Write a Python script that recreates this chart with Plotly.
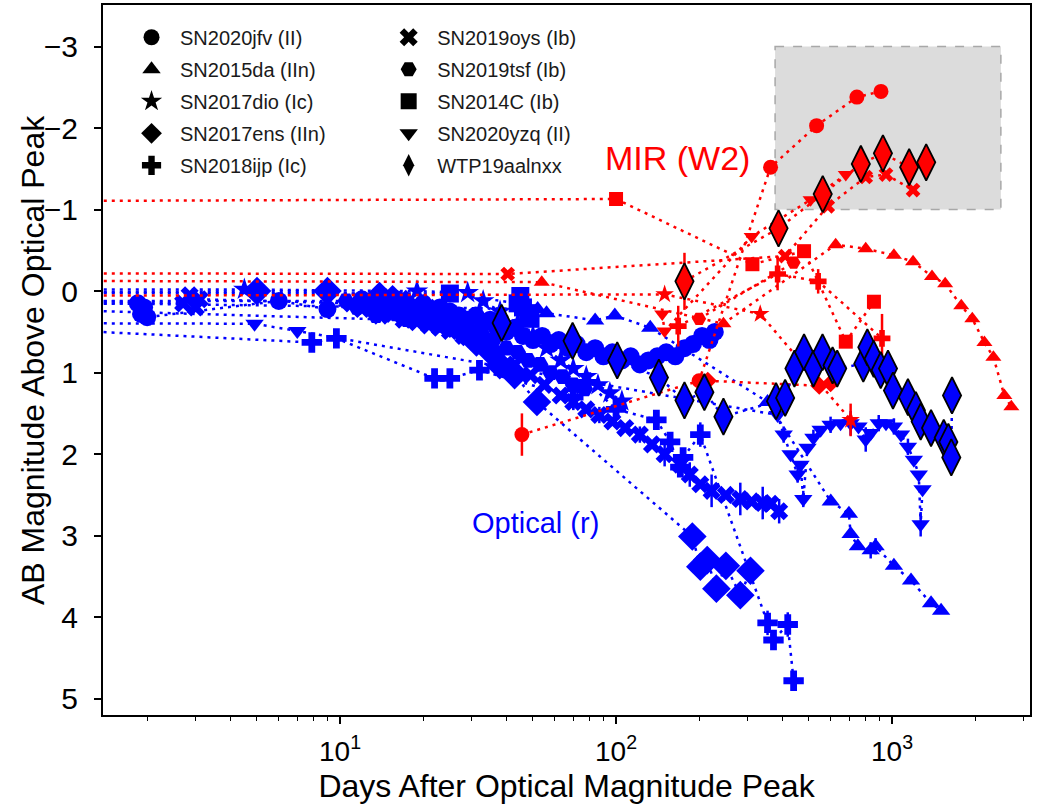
import plotly.graph_objects as go

BLUE = "#0000ff"
RED = "#ff0000"
FONT = "Liberation Sans, Arial, Helvetica, sans-serif"

# ---------------- Optical (r) light curves: (days, mag[, err]) ----------------
jfv_opt = [(0.3, 0.18), (1.85, 0.15), (1.9, 0.28), (1.95, 0.2), (2.0, 0.32), (6.0, 0.12), (9.0, 0.22),
           (12, 0.1), (13, 0.15), (14, 0.05), (15, 0.2), (16, 0.1), (17, 0.15), (18, 0.25), (19, 0.2),
           (20, 0.15), (21, 0.25), (22, 0.3), (23, 0.2), (24, 0.3), (25, 0.25), (27, 0.3), (29, 0.35),
           (31, 0.3), (33, 0.4), (35, 0.35), (37, 0.45), (40, 0.5), (43, 0.45), (46, 0.55), (50, 0.6),
           (54, 0.55), (58, 0.65), (62, 0.6), (67, 0.7), (72, 0.65), (78, 0.75), (84, 0.7), (90, 0.8),
           (97, 0.75), (105, 0.85), (113, 0.8), (122, 0.9), (131, 0.85), (141, 0.8), (152, 0.75),
           (164, 0.8), (177, 0.7), (190, 0.65), (205, 0.55), (218, 0.6), (228, 0.5)]
oys_opt = [(0.3, 0.06), (2.7, 0.15), (2.85, 0.05), (3.0, 0.2), (3.1, 0.1), (11, 0.15), (12, 0.22),
           (13, 0.2), (14, 0.3), (15.5, 0.28), (17, 0.35), (19, 0.38), (21, 0.42), (23, 0.45), (25, 0.49),
           (28, 0.55), (31, 0.62), (34, 0.68), (38, 0.79), (43, 0.9), (49, 1.03), (55, 1.15), (63, 1.28),
           (70, 1.36, 0.1), (78, 1.45), (87, 1.52, 0.1), (97, 1.6), (108, 1.68), (122, 1.76, 0.1),
           (135, 1.88), (150, 2.0, 0.15), (171, 2.13), (185, 2.25, 0.15), (202, 2.37), (222, 2.45, 0.2),
           (250, 2.5), (282, 2.55, 0.2), (310, 2.58), (340, 2.6, 0.2), (363, 2.61), (390, 2.7, 0.15)]
tsf_opt = [(0.3, 0.12), (10.5, 0.12), (11.5, 0.2), (12.5, 0.18), (13.5, 0.3), (14.5, 0.25), (16, 0.28),
           (17.5, 0.35), (19, 0.3), (21, 0.38), (23, 0.42), (25, 0.36), (27, 0.45), (30, 0.5), (33, 0.55),
           (36, 0.6), (40, 0.7), (44, 0.75), (48, 0.85), (53, 0.9), (58, 1.0), (64, 1.05), (70, 1.15),
           (77, 1.2)]
dio_opt = [(0.3, -0.02), (4.5, -0.02), (19, 0.0), (29, 0.02), (33, 0.12), (38, 0.25), (44, 0.4),
           (50, 0.55), (56, 0.7), (63, 0.85), (70, 0.95), (78, 1.05), (86, 1.15), (95, 1.25), (105, 1.35)]
c14_opt = [(0.3, 0.02), (25, 0.03), (44, 0.15), (45, 0.06), (46, 0.2), (48, 0.27), (49, 0.34)]
ens_opt = [(0.3, 0.02), (5.0, 0.0), (9.0, 0.0), (13.9, 0.06), (15.5, 0.1), (17.3, 0.16), (19.5, 0.22),
           (21.6, 0.27), (25, 0.4), (28, 0.5), (31.2, 0.63), (34.8, 0.73), (37.9, 0.91), (42.9, 1.03),
           (51.7, 1.36, 0.15), (189, 3.01), (202, 3.38), (214, 3.30), (231, 3.65), (250, 3.37),
           (282, 3.73), (307, 3.43)]
yzq_opt = [(0.3, 0.39), (4.9, 0.4), (7.0, 0.49), (385, 1.52), (405, 1.76, 0.1), (429, 2.0),
           (455, 2.25, 0.1), (466, 2.13), (477, 2.55, 0.1), (494, 1.92), (519, 1.80, 0.1), (551, 1.70),
           (599, 1.64, 0.1), (651, 1.62), (708, 1.62, 0.15), (756, 1.66), (803, 1.82, 0.15), (837, 1.74),
           (895, 1.62, 0.1), (951, 1.62), (1016, 1.66, 0.1), (1078, 1.76), (1142, 1.91, 0.1),
           (1200, 2.07), (1250, 2.25), (1270, 2.86, 0.15), (1290, 2.43)]
ijp_opt = [(0.3, 0.39), (7.9, 0.63), (9.7, 0.58), (22, 1.07), (25, 1.07), (32, 0.97), (70, 1.3, 0.15),
           (79, 1.12), (100, 1.45), (140, 1.58), (157, 1.85, 0.1), (171, 2.16), (175, 2.04),
           (202, 1.76, 0.15), (354, 4.07, 0.15), (372, 4.28), (419, 4.09, 0.15), (440, 4.78)]
da15_opt = [(0.3, 0.12), (52, 0.22), (56, 0.27), (84, 0.36), (99, 0.30), (133, 0.45), (354, 1.36),
            (600, 2.58), (698, 2.73), (708, 2.98), (752, 3.13), (837, 3.18, 0.1), (872, 3.13, 0.1),
            (1016, 3.37), (1172, 3.55), (1385, 3.83), (1506, 3.92)]
wtp_opt = [(0.3, 0.18), (38.5, 0.39), (69.6, 0.61), (101, 0.85), (143, 1.06), (177, 1.34), (209, 1.24),
           (245, 1.54), (380, 1.35), (410, 1.31), (443, 0.95), (480, 0.75), (519, 0.95), (560, 0.75),
           (609, 0.91), (633, 0.95), (787, 0.89), (814, 0.69), (858, 0.83), (910, 0.97), (967, 0.95),
           (1008, 1.22), (1142, 1.30), (1220, 1.46), (1270, 1.6), (1385, 1.68), (1540, 1.80),
           (1600, 1.85), (1640, 2.04), (1650, 1.28)]

# ---------------- MIR (W2) light curves ----------------
c14_mir = [(0.3, -1.10), (100, -1.13), (312, -0.33), (480, -0.49), (680, 0.62), (860, 0.13)]
da15_mir = [(0.3, -0.13), (53.8, -0.11), (245, 0.40), (625, -0.57), (803, -0.52), (1016, -0.44),
            (1192, -0.36), (1396, -0.18), (1558, -0.09), (1782, 0.18), (1954, 0.34), (2162, 0.63),
            (2330, 0.81), (2553, 1.28), (2707, 1.42)]
oys_mir = [(0.3, -0.22), (40.5, -0.21), (410, -0.43), (585, -1.04), (803, -1.40), (951, -1.43),
           (1192, -1.24)]
dio_mir = [(0.3, 0.06), (150, 0.04), (333, 0.28), (708, 1.58, 0.2)]
tsf_mir = [(200, 0.34), (440, -0.35)]
yzq_mir = [(147, 0.28), (150, 0.49), (310, -0.67), (507, -1.12), (680, -1.43)]
ijp_mir = [(168, 0.43, 0.25), (385, -0.21, 0.2), (540, -0.12, 0.15), (920, 0.58, 0.3)]
ens_mir = [(215, 1.1), (545, 1.16), (599, 1.13)]
jfv_mir = [(45.6, 1.76, 0.26), (200, 1.1), (363, -1.52), (533, -2.03), (746, -2.38), (912, -2.45)]
wtp_mir = [(177, -0.12, 0.35), (388, -0.77), (561, -1.19), (771, -1.56), (927, -1.69), (1154, -1.52),
           (1330, -1.58)]

# legend entries (name, symbol)
legend_col1 = [("SN2020jfv (II)", "circle"), ("SN2015da (IIn)", "triangle-up"),
               ("SN2017dio (Ic)", "star"), ("SN2017ens (IIn)", "diamond"),
               ("SN2018ijp (Ic)", "cross")]
legend_col2 = [("SN2019oys (Ib)", "x"), ("SN2019tsf (Ib)", "hexagon2"),
               ("SN2014C (Ib)", "square"), ("SN2020yzq (II)", "triangle-down"),
               ("WTP19aalnxx", "diamond-tall")]

fig = go.Figure()


def add(pts, symbol, color, size, edge=None):
    d = [p[0] for p in pts]
    m = [p[1] for p in pts]
    e = [p[2] if len(p) > 2 else 0 for p in pts]
    fig.add_trace(go.Scatter(
        x=d, y=m, mode="lines+markers",
        line=dict(color=color, width=2.5, dash="3px,5px"),
        marker=dict(symbol=symbol, color=color, size=size,
                    line=dict(color=edge if edge else color, width=1.8 if edge else 0)),
        error_y=dict(type="data", array=e, visible=any(v > 0 for v in e),
                     color=color, thickness=2.5, width=0),
        showlegend=False, hoverinfo="skip"))


# optical (blue)
add(jfv_opt, "circle", BLUE, 18)
add(oys_opt, "x", BLUE, 16)
add(tsf_opt, "hexagon2", BLUE, 17)
add(dio_opt, "star", BLUE, 17)
add(c14_opt, "square", BLUE, 18)
add(ens_opt, "diamond", BLUE, 22)
add(yzq_opt, "triangle-down", BLUE, 16)
add(ijp_opt, "cross", BLUE, 17)
add(da15_opt, "triangle-up", BLUE, 16)
# MIR (red)
add(c14_mir, "square", RED, 14)
add(da15_mir, "triangle-up", RED, 14)
add(oys_mir, "x", RED, 13)
add(dio_mir, "star", RED, 14)
add(tsf_mir, "hexagon2", RED, 14)
add(yzq_mir, "triangle-down", RED, 14)
add(ijp_mir, "cross", RED, 14)
add(ens_mir, "diamond", RED, 14)
add(jfv_mir, "circle", RED, 15)
# WTP19aalnxx
add(wtp_opt, "diamond-tall", BLUE, 26, edge="black")
add(wtp_mir, "diamond-tall", RED, 26, edge="black")

for i, (name, sym) in enumerate(legend_col1):
    fig.add_trace(go.Scatter(x=[None], y=[None], mode="markers", name=name, legend="legend",
                             legendgroup="a%d" % i,
                             marker=dict(symbol=sym, color="black", size=16)))
for i, (name, sym) in enumerate(legend_col2):
    fig.add_trace(go.Scatter(x=[None], y=[None], mode="markers", name=name, legend="legend2",
                             legendgroup="b%d" % i,
                             marker=dict(symbol=sym, color="black", size=16)))

# shaded region
fig.add_shape(type="rect", xref="x", yref="y", x0=377, x1=2480, y0=-3.0, y1=-1.0,
              fillcolor="#dcdcdc", line=dict(color="#a8a8a8", width=1.5, dash="dash"), layer="below")

fig.add_annotation(x=2.221, y=-1.63, xref="x", yref="y", text="MIR (W2)", showarrow=False,
                   font=dict(size=34, color=RED, family=FONT))
fig.add_annotation(x=1.707, y=2.84, xref="x", yref="y", text="Optical (r)", showarrow=False,
                   font=dict(size=29, color=BLUE, family=FONT))
# y-axis title placed as a rotated annotation so it can sit closer to the tick labels
fig.add_annotation(x=-0.0755, y=0.5, xref="paper", yref="paper", text="AB Magnitude Above Optical Peak",
                   textangle=-90, showarrow=False, xanchor="center", yanchor="middle",
                   font=dict(size=32, color="black", family=FONT))

minor_vals = [m * 10 ** k for k in range(0, 4) for m in range(2, 10)]

legend_common = dict(xanchor="left", yanchor="top", bgcolor="rgba(0,0,0,0)", borderwidth=0,
                     font=dict(size=20, family=FONT, color="#1a1a1a"), itemsizing="trace",
                     traceorder="grouped", tracegroupgap=3, itemwidth=47)

fig.update_layout(
    width=1043, height=804,
    margin=dict(l=103, r=13, t=5, b=89),
    paper_bgcolor="white", plot_bgcolor="white",
    font=dict(family=FONT, color="black"),
    hovermode=False,
    legend=dict(x=0.0216, y=0.982, **legend_common),
    legend2=dict(x=0.299, y=0.982, **legend_common),
    xaxis=dict(type="log", range=[0.141, 3.5], tickvals=[10, 100, 1000],
               ticktext=["10<sup>1</sup>", "10<sup>2</sup>", "10<sup>3</sup>"],
               ticks="outside", ticklen=7, tickwidth=1.5, tickcolor="black",
               showline=True, linewidth=2, linecolor="black", mirror=True,
               showgrid=False, zeroline=False, automargin=False,
               tickfont=dict(size=28, family=FONT), ticklabelstandoff=3,
               minor=dict(tickvals=minor_vals, ticklen=4, tickwidth=1.2, ticks="outside",
                          tickcolor="black", showgrid=False),
               title=dict(text="Days After Optical Magnitude Peak", font=dict(size=32, family=FONT),
                          standoff=10)),
    yaxis=dict(range=[5.20, -3.51], tickvals=list(range(-3, 6)),
               ticks="outside", ticklen=7, tickwidth=1.5, tickcolor="black",
               showline=True, linewidth=2, linecolor="black", mirror=True,
               showgrid=False, zeroline=False, automargin=False,
               tickfont=dict(size=30, family=FONT), ticklabelstandoff=10),
)

fig.write_html("out.html", config={"displayModeBar": False},
               post_script="document.body.style.margin='0';")
